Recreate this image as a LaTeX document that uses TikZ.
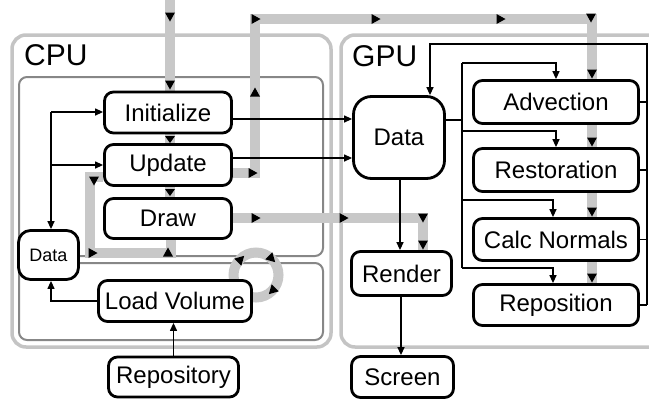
\documentclass[tikz,border=0pt]{standalone}
\usepackage{fontspec}
\setmainfont{Liberation Sans}
\usetikzlibrary{arrows.meta,backgrounds}
\definecolor{lgray}{RGB}{196,196,196}
\definecolor{pgray}{RGB}{200,200,200}
\definecolor{dgray}{RGB}{135,135,135}
\newcommand\gtri[3]{\fill[black,shift={(#1,#2)},rotate=#3] (4.5,0) -- (-4.5,5) -- (-4.5,-5) -- cycle;}
\newcommand\stri[3]{\fill[black,shift={(#1,#2)},rotate=#3] (3.5,0) -- (-3.5,5) -- (-3.5,-5) -- cycle;}
\begin{document}
\begin{tikzpicture}[x=1pt,y=-1pt,
  box/.style={draw=black, line width=2.8pt, rounded corners=9pt, fill=white, inner sep=2pt, font=\fontsize{24}{27}\selectfont},
  gline/.style={draw=pgray, line width=10pt},
  conn/.style={line width=1.3pt, -{Triangle[length=8pt,width=7pt]}},
  plain/.style={line width=1.3pt},
  outerframe/.style={draw=lgray, line width=3.5pt, rounded corners=14pt},
  innerframe/.style={draw=dgray, line width=2pt, rounded corners=8pt},
  title/.style={anchor=base west, inner sep=0pt, font=\fontsize{30}{33}\selectfont}]
\useasboundingbox (0,0) rectangle (649,400);

% labels
\node[title] (cpu) at (24,65) {CPU};
\node[title] (gpu) at (352,66) {GPU};

% nodes
\node[box, minimum width=127, minimum height=41] (init) at (168,112.5) {Initialize};
\node[box, minimum width=127, minimum height=41] (upd) at (168,165) {Update};
\node[box, minimum width=127, minimum height=40] (drw) at (168,218.5) {Draw};
\node[box, rounded corners=12pt, minimum width=60, minimum height=49, font=\fontsize{18}{20}\selectfont] (ldata) at (48.5,255) {Data};
\node[box, minimum width=153, minimum height=41] (load) at (175,301) {Load Volume};
\node[box, minimum width=130, minimum height=40] (repo) at (173.5,377) {Repository};
\node[box, rounded corners=18pt, minimum width=91, minimum height=82] (gdata) at (399,137.5) {Data};
\node[box, minimum width=165, minimum height=43] (adv) at (556,102) {Advection};
\node[box, minimum width=165, minimum height=43] (rest) at (556,170) {Restoration};
\node[box, minimum width=165, minimum height=42] (calc) at (556,239.5) {Calc Normals};
\node[box, minimum width=165, minimum height=41] (repos) at (556,305) {Reposition};
\node[box, minimum width=100, minimum height=44] (render) at (401.5,273.5) {Render};
\node[box, minimum width=102, minimum height=41] (screen) at (402.5,377) {Screen};

\begin{pgfonlayer}{background}
  % frames
  \draw[outerframe] (12,35) rectangle (331,347);
  \draw[outerframe] (341,35) rectangle (668,347);
  \draw[innerframe] (19,77) rectangle (323,256);
  \draw[innerframe] (19,263) rectangle (323,340);
  % gray flow paths
  \coordinate (topin) at (170,0);
  \draw[gline] (topin) -- (topin |- init.north);
  \draw[gline] (170,0 |- init.south) -- (170,0 |- upd.north);
  \draw[gline] (170,0 |- upd.south) -- (170,0 |- drw.north);
  \draw[gline] (upd.east |- 0,173) -- (255,173) -- (255,19) -- (592,19) -- (592,0 |- adv.north);
  \draw[gline] (592,0 |- adv.south) -- (592,0 |- rest.north);
  \draw[gline] (592,0 |- rest.south) -- (592,0 |- calc.north);
  \draw[gline] (592,0 |- calc.south) -- (592,0 |- repos.north);
  \draw[gline] (drw.east |- 0,218) -- (423,218) -- (423,0 |- render.north);
  \draw[gline] (upd.west |- 0,177) -- (90,177) -- (90,253) -- (171,253) -- (171,0 |- drw.south);
  \draw[gline] (256,275) circle[radius=22.5pt];
  % arrow marks on gray paths
  \gtri{170}{17}{-90}
  \gtri{170}{85}{-90}
  \stri{170}{139.5}{-90}
  \stri{170}{192.5}{-90}
  \gtri{253}{173}{0}
  \gtri{255}{92}{90}
  \gtri{256}{19}{0}
  \gtri{376}{19}{0}
  \gtri{501}{19}{0}
  \gtri{591}{18}{-90}
  \gtri{592}{74}{-90}
  \gtri{592}{142}{-90}
  \gtri{592}{212}{-90}
  \gtri{592}{278}{-90}
  \gtri{256}{218}{0}
  \gtri{344}{218}{0}
  \gtri{423}{218}{-90}
  \gtri{423}{245}{-90}
  \gtri{94}{181}{-90}
  \gtri{93}{253}{0}
  \gtri{168}{252}{90}
  \gtri{241}{259}{45}
  \gtri{272}{259}{-45}
  \gtri{272}{291}{-135}
\end{pgfonlayer}

% thin connectors, CPU side
\coordinate (jl) at (51,112);
\draw[conn] (jl) -- (init.west |- jl);
\draw[conn] (jl |- upd.west) -- (upd.west);
\draw[conn] (jl) -- (jl |- ldata.north);
\draw[conn] (load.west) -| (jl |- ldata.south);
\draw[conn] (repo.north) -- (repo.north |- load.south);
\coordinate (yi) at (0,119);
\coordinate (yu) at (0,158);
\draw[conn] (init.east |- yi) -- (gdata.west |- yi);
\draw[conn] (upd.east |- yu) -- (gdata.west |- yu);

% GPU side
\draw[conn] (gdata.south -| 400,0) -- (render.north -| 400,0);
\draw[conn] (render.south -| 401,0) -- (screen.north -| 401,0);
\coordinate (b0) at (462,120);
\coordinate (b1) at (462,63);
\coordinate (b2) at (462,131);
\coordinate (b3) at (462,200);
\coordinate (b4) at (462,268);
\draw[plain] (gdata.east |- b0) -- (b0);
\draw[plain] (b1) -- (b4);
\draw[conn] (b1) -| (adv.north);
\draw[conn] (b2) -| (rest.north);
\draw[conn] (b3) -| (553,0 |- calc.north);
\draw[conn] (b4) -| (553,0 |- repos.north);
\coordinate (rx) at (647,44);
\draw[plain] (adv.east) -- (adv.east -| rx);
\draw[plain] (rest.east) -- (rest.east -| rx);
\draw[plain] (calc.east) -- (calc.east -| rx);
\draw[plain] (repos.east) -- (repos.east -| rx);
\draw[conn] (repos.east -| rx) -- (rx) -| (430,0 |- gdata.north);
\end{tikzpicture}
\end{document}
